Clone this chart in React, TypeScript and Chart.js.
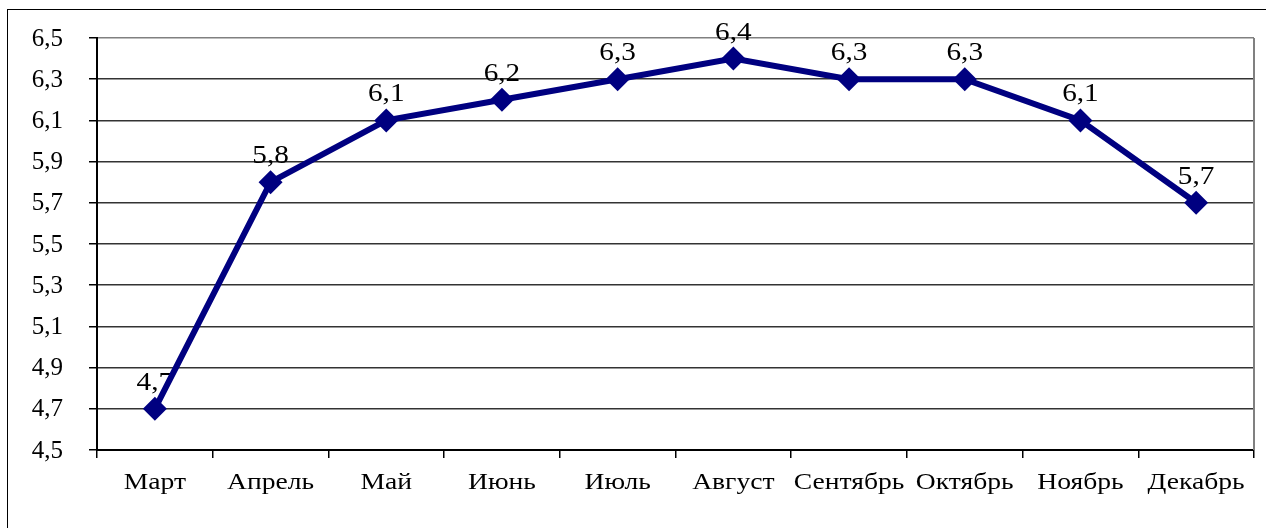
import React, { useEffect, useRef } from "react";
import { Chart, registerables } from "chart.js";

Chart.register(...registerables);

const months = ["Март", "Апрель", "Май", "Июнь", "Июль", "Август", "Сентябрь", "Октябрь", "Ноябрь", "Декабрь"];
const values = [4.7, 5.8, 6.1, 6.2, 6.3, 6.4, 6.3, 6.3, 6.1, 5.7];
const yMin = 4.5;
const yMax = 6.5;
const yStep = 0.2;

const fmt = (v: number) => v.toFixed(1).replace(".", ",");

const FONT = "'Liberation Serif', 'Times New Roman', serif";

function stretchedText(ctx: any, text: string, x: number, y: number, sx: number) {
  ctx.save();
  ctx.translate(x, y);
  ctx.scale(sx, 1);
  ctx.fillText(text, 0, 0);
  ctx.restore();
}

const extras = {
  id: "extras",
  beforeDatasetsDraw(chart: any) {
    const { ctx, chartArea } = chart;
    ctx.save();
    ctx.strokeStyle = "#808080";
    ctx.lineWidth = 2;
    ctx.beginPath();
    ctx.moveTo(chartArea.right, chartArea.top);
    ctx.lineTo(chartArea.right, chartArea.bottom);
    ctx.stroke();

    // y tick labels
    const ys = chart.scales.y;
    ctx.fillStyle = "#000";
    ctx.font = `25px ${FONT}`;
    ctx.textAlign = "right";
    ctx.textBaseline = "middle";
    ys.ticks.forEach((t: any) => {
      ctx.fillText(fmt(t.value), chartArea.left - 34, ys.getPixelForValue(t.value) + 1);
    });

    // data labels
    const meta = chart.getDatasetMeta(0);
    ctx.textAlign = "center";
    ctx.textBaseline = "alphabetic";
    meta.data.forEach((pt: any, i: number) => {
      stretchedText(ctx, fmt(values[i]), pt.x, pt.y - 19, 1.17);
    });

    // x category labels
    const xs = chart.scales.x;
    ctx.font = `24px ${FONT}`;
    months.forEach((m, i) => {
      stretchedText(ctx, m, xs.getPixelForValue(i), chartArea.bottom + 39, 1.15);
    });
    ctx.restore();
  },
};

export default function App() {
  const ref = useRef<HTMLCanvasElement>(null);
  useEffect(() => {
    if (!ref.current) return;
    const chart = new Chart(ref.current, {
      type: "line",
      data: {
        labels: months,
        datasets: [
          {
            data: values,
            borderColor: "#000080",
            backgroundColor: "#000080",
            borderWidth: 6,
            pointStyle: "rectRot",
            pointRadius: 12,
            pointBorderWidth: 0,
            pointBackgroundColor: "#000080",
            tension: 0,
          },
        ],
      },
      options: {
        responsive: false,
        animation: false,
        layout: { padding: { top: 38, right: 12, bottom: 0, left: 0 } },
        plugins: { legend: { display: false }, tooltip: { enabled: false } },
        scales: {
          x: {
            offset: true,
            grid: {
              offset: true,
              drawOnChartArea: false,
              drawTicks: true,
              tickLength: 8,
              color: "#000",
              lineWidth: 1.5,
            },
            border: { color: "#000", width: 2 },
            ticks: {
              display: false,
              autoSkip: false,
            },
            afterFit(scale: any) {
              scale.height = 78;
            },
          },
          y: {
            min: yMin,
            max: yMax,
            grid: {
              color: (c: any) => (c.tick && c.tick.value >= yMax - 1e-9 ? "#808080" : "#333"),
              lineWidth: 1.5,
              tickLength: 8,
              tickColor: "#000",
            },
            border: { color: "#000", width: 2 },
            ticks: {
              display: false,
              stepSize: yStep,
              padding: 0,
            },
            afterFit(scale: any) {
              scale.width = 97;
            },
          },
        },
      },
      plugins: [extras],
    });
    return () => chart.destroy();
  }, []);
  return (
    <div style={{ position: "fixed", left: 0, top: 0, width: 1266, height: 528, background: "#fff", overflow: "hidden" }}>
      <div
        style={{
          position: "absolute",
          left: 7,
          top: 9,
          width: 1400,
          height: 700,
          border: "1.5px solid #000",
        }}
      />
      <canvas ref={ref} width={1266} height={528} style={{ position: "absolute", left: 0, top: 0 }} />
    </div>
  );
}
